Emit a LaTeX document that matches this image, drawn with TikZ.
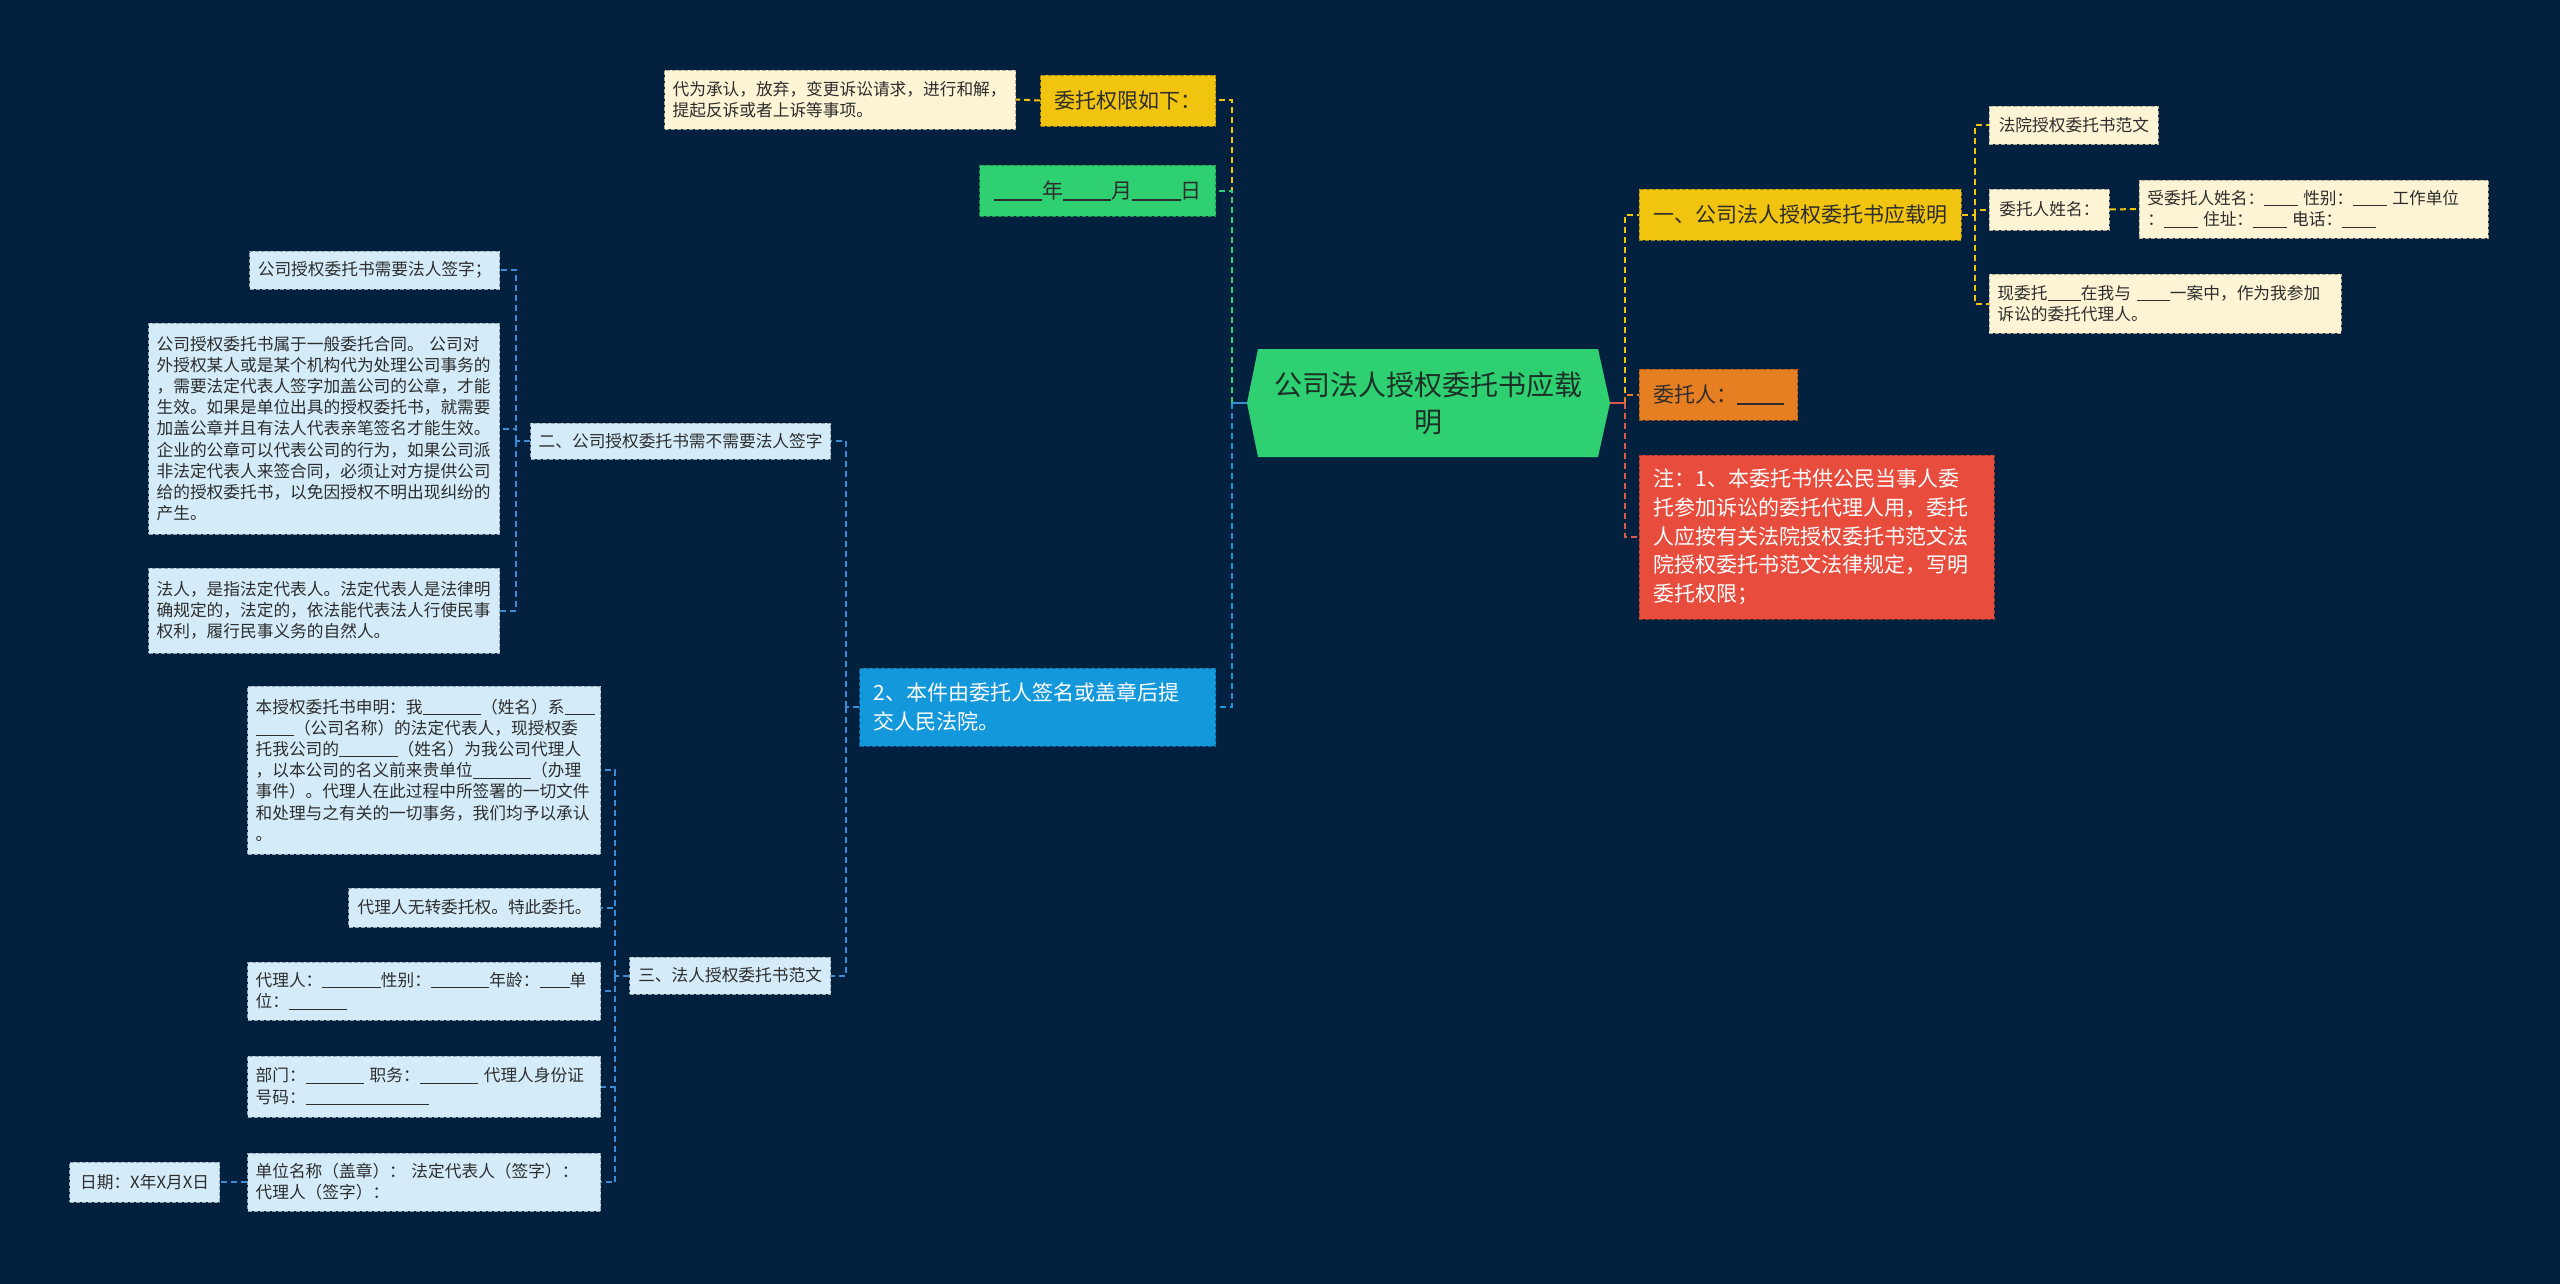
\documentclass[tikz,border=0pt]{standalone}
\usepackage{fontspec}
\setmainfont{Noto Sans CJK SC}
\usepackage{tikz}
\usetikzlibrary{calc}
\usepackage{xcolor}
\definecolor{bgnavy}{RGB}{3,33,63}
\definecolor{hexgreen}{RGB}{46,208,113}
\definecolor{hexink}{RGB}{28,48,38}
\definecolor{ygold}{RGB}{241,196,15}
\definecolor{cream}{RGB}{252,244,212}
\definecolor{ornge}{RGB}{230,126,34}
\definecolor{nred}{RGB}{231,76,60}
\definecolor{skyblue}{RGB}{20,152,220}
\definecolor{paleblue}{RGB}{212,236,249}
\definecolor{ink}{RGB}{45,45,45}
\definecolor{lnblue}{RGB}{58,140,212}
\definecolor{lnred}{RGB}{214,90,80}
\newcommand{\fillin}[1]{\rule[-0.12em]{#1em}{0.06em}}

\begin{document}
\begin{tikzpicture}[x=0.5pt,y=-0.5pt,
  box/.style={draw=#1!70!black,fill=#1,dash pattern=on 2pt off 1pt,line width=0.4pt,
    inner xsep=4pt,inner ysep=2pt,text=ink},
  small/.style={font=\fontsize{8.35}{10.6}\selectfont},
  mid/.style={font=\fontsize{10.5}{14.3}\selectfont,inner xsep=7pt},
  lnk/.style={draw=#1,line width=1pt,dash pattern=on 3pt off 2pt},
  sz/.style 2 args={minimum width=#1*0.5pt,minimum height=#2*0.5pt}]
  \fill[bgnavy](0,0) rectangle (2560,1284);
  % centre
  \fill[hexgreen](1247,403)--(1258,349)--(1598,349)--(1610,403)--(1598,457)--(1258,457)--cycle;
  \node[sz={363}{108},text width=158pt,align=center,text=hexink,
    font=\fontsize{14}{18.5}\selectfont] (hex) at(1428.5,403){公司法人授权委托书应载\\明};
  % left branch
  \node[box=ygold,mid,sz={173}{51},anchor=east] (quan) at(1216,100.5){委托权限如下：};
  \node[box=cream,small,text width=167.5pt,sz={351}{59},anchor=east,align=left] (quanx) at(1016,99.5)
    {代为承认，放弃，变更诉讼请求，进行和解，\\提起反诉或者上诉等事项。};
  \node[box=hexgreen,mid,sz={230}{51},anchor=east] (date) at(1216,190.5)
    {\fillin{2.3}年\fillin{2.3}月\fillin{2.3}日};
  \node[box=skyblue,mid,text=white,text width=164pt,sz={356}{78},anchor=east,align=left] (submit) at(1216,707)
    {2、本件由委托人签名或盖章后提\\交人民法院。};
  % right branch
  \node[box=ygold,mid,sz={322}{51},anchor=west] (yiyi) at(1639,214.5){一、公司法人授权委托书应载明};
  \node[box=ornge,mid,sz={155}{51},anchor=west] (wtr) at(1639,394.5){委托人：\fillin{2.2}};
  \node[box=nred,mid,text=white,text width=163.5pt,sz={355}{164},anchor=west,align=left] (note) at(1639,537)
    {注：1、本委托书供公民当事人委\\托参加诉讼的委托代理人用，委托\\人应按有关法院授权委托书范文法\\院授权委托书范文法律规定，写明\\委托权限；};
  \node[box=cream,small,sz={169}{38},anchor=west] (fy) at(1989,125){法院授权委托书范文};
  \node[box=cream,small,sz={120}{41},anchor=west] (wname) at(1989,209.5){委托人姓名：};
  \node[box=cream,small,text width=166.5pt,sz={349}{58},anchor=west,align=left] (wname2) at(2139,209)
    {受委托人姓名：\fillin{2} 性别：\fillin{2} 工作单位\\：\fillin{2} 住址：\fillin{2} 电话：\fillin{2}};
  \node[box=cream,small,text width=168pt,sz={352}{59},anchor=west,align=left] (xwt) at(1989,303.5)
    {现委托\fillin{2}在我与 \fillin{2}一案中，作为我参加\\诉讼的委托代理人。};
  % sub branch two
  \node[box=paleblue,small,sz={300}{36},anchor=east] (er) at(831,441){二、公司授权委托书需不需要法人签字};
  \node[box=paleblue,small,sz={249}{38},anchor=east] (er1) at(500,270){公司授权委托书需要法人签字；};
  \node[box=paleblue,small,text width=167.5pt,sz={351}{211},anchor=east,align=left] (er2) at(500,428.5)
    {公司授权委托书属于一般委托合同。 公司对\\外授权某人或是某个机构代为处理公司事务的\\，需要法定代表人签字加盖公司的公章，才能\\生效。如果是单位出具的授权委托书，就需要\\加盖公章并且有法人代表亲笔签名才能生效。\\企业的公章可以代表公司的行为，如果公司派\\非法定代表人来签合同，必须让对方提供公司\\给的授权委托书，以免因授权不明出现纠纷的\\产生。};
  \node[box=paleblue,small,text width=167.5pt,sz={351}{85},anchor=east,align=left] (er3) at(500,610.5)
    {法人，是指法定代表人。法定代表人是法律明\\确规定的，法定的，依法能代表法人行使民事\\权利，履行民事义务的自然人。};
  % sub branch three
  \node[box=paleblue,small,sz={201}{37},anchor=east] (san) at(831,975.5){三、法人授权委托书范文};
  \node[box=paleblue,small,text width=168.5pt,sz={353}{168},anchor=east,align=left] (san1) at(601,770)
    {本授权委托书申明：我\fillin{3.5}（姓名）系\fillin{1.8}\\\fillin{2.3}（公司名称）的法定代表人，现授权委\\托我公司的\fillin{3.5}（姓名）为我公司代理人\\，以本公司的名义前来贵单位\fillin{3.5}（办理\\事件）。代理人在此过程中所签署的一切文件\\和处理与之有关的一切事务，我们均予以承认\\。};
  \node[box=paleblue,small,sz={252}{39},anchor=east] (san2) at(601,907.5){代理人无转委托权。特此委托。};
  \node[box=paleblue,small,text width=168.5pt,sz={353}{58},anchor=east,align=left] (san3) at(601,991)
    {代理人：\fillin{3.5}性别：\fillin{3.5}年龄：\fillin{1.8}单\\位：\fillin{3.5}};
  \node[box=paleblue,small,text width=168.5pt,sz={353}{61},anchor=east,align=left] (san4) at(601,1086.5)
    {部门：\fillin{3.5} 职务：\fillin{3.5} 代理人身份证\\号码：\fillin{7.4}};
  \node[box=paleblue,small,text width=168.5pt,sz={353}{58},anchor=east,align=left] (san5) at(601,1182)
    {单位名称（盖章）： 法定代表人（签字）：\\代理人（签字）：};
  \node[box=paleblue,small,sz={150}{40},anchor=east] (riqi) at(220,1182){日期：X年X月X日};
  % connectors
  \coordinate (tL) at(1232,403);
  \coordinate (tR) at(1625,403);
  \coordinate (tY) at(1975,214.5);
  \coordinate (tB) at(846,707);
  \coordinate (tE) at(516,441);
  \coordinate (tS) at(615,975.5);
  \draw[lnblue,line width=1.2pt](hex.west)--(tL);
  \draw[lnk=ygold](tL)|-(quan.east);
  \draw[lnk=hexgreen](tL)|-(date.east);
  \draw[lnk=skyblue](tL)|-(submit.east);
  \draw[lnk=ygold](quan.west)--(quanx.east);
  \draw[lnred,line width=1.2pt](hex.east)--(tR);
  \draw[lnk=ygold](tR)|-(yiyi.west);
  \draw[lnk=ornge](tR)|-(wtr.west);
  \draw[lnk=lnred](tR)|-(note.west);
  \draw[lnk=ygold](yiyi.east)--(tY);
  \foreach \c in {fy,wname,xwt} \draw[lnk=ygold](tY)|-(\c.west);
  \draw[lnk=ygold](wname.east)--(wname2.west);
  \draw[lnk=lnblue](submit.west)--(tB);
  \foreach \c in {er,san} \draw[lnk=lnblue](tB)|-(\c.east);
  \draw[lnk=lnblue](er.west)--(tE);
  \foreach \c in {er1,er2,er3} \draw[lnk=lnblue](tE)|-(\c.east);
  \draw[lnk=lnblue](san.west)--(tS);
  \foreach \c in {san1,san2,san3,san4,san5} \draw[lnk=lnblue](tS)|-(\c.east);
  \draw[lnk=lnblue](san5.west)--(riqi.east);
\end{tikzpicture}
\end{document}
